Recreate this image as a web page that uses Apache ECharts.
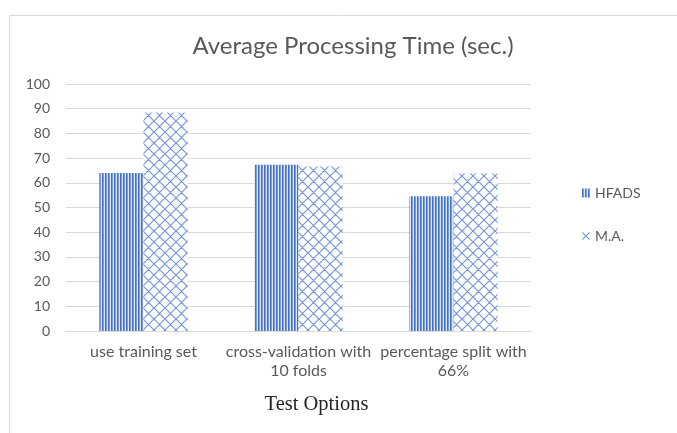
<!DOCTYPE html>
<html>
<head>
<meta charset="utf-8">
<script src="https://cdn.jsdelivr.net/npm/echarts@6/dist/echarts.min.js"></script>
<style>
  html, body { margin: 0; padding: 0; background: #ffffff; }
  #chart { width: 677px; height: 433px; }
</style>
</head>
<body>
<div id="chart"></div>
<script>
// Test options on the category axis
const categories = ['use training set', 'cross-validation with\n10 folds', 'percentage split with\n66%'];
// Average processing time in seconds
const hfadsValues = [64, 67.3, 54.6];
const maValues = [88.5, 66.6, 63.8];
const seriesNames = ['HFADS', 'M.A.'];
const yTicks = { min: 0, max: 100, interval: 10 };

const FONT = 'Lato, "Open Sans", sans-serif';
const TEXT_COLOR = '#595959';

// Vertical stripe fill
function stripePattern() {
  const c = document.createElement('canvas');
  c.width = 3; c.height = 4;
  const g = c.getContext('2d');
  g.fillStyle = '#dfe7f6'; g.fillRect(0, 0, 3, 4);
  g.fillStyle = '#4472c4'; g.fillRect(0, 0, 1, 4);
  g.fillStyle = '#7b9bd8'; g.fillRect(1, 0, 1, 4);
  return { image: c, repeat: 'repeat' };
}

// Diagonal cross-hatch fill
function hatchPattern() {
  const s = 11;
  const c = document.createElement('canvas');
  c.width = s; c.height = s;
  const g = c.getContext('2d');
  g.fillStyle = '#ffffff'; g.fillRect(0, 0, s, s);
  g.strokeStyle = '#7797d8';
  g.lineWidth = 1.2;
  g.beginPath();
  for (let k = -1; k <= 1; k++) {
    g.moveTo(k * s, 0); g.lineTo(k * s + s, s);
    g.moveTo(k * s + s, 0); g.lineTo(k * s, s);
  }
  g.stroke();
  return { image: c, repeat: 'repeat' };
}

const chart = echarts.init(document.getElementById('chart'), null, { renderer: 'canvas' });

chart.setOption({
  backgroundColor: '#ffffff',
  animation: false,
  title: {
    text: 'Average Processing Time (sec.)',
    left: 348,
    top: 29,
    textAlign: 'center',
    textStyle: { fontFamily: FONT, fontSize: 24, fontWeight: 'normal', color: TEXT_COLOR }
  },
  graphic: [{
    type: 'rect',
    shape: { x: 9.5, y: 15.5, width: 720, height: 500 },
    style: { fill: 'none', stroke: '#d9d9d9', lineWidth: 1 },
    silent: true
  }],
  legend: {
    orient: 'vertical',
    left: 577,
    top: 181,
    itemWidth: 8,
    itemHeight: 9,
    itemGap: 29,
    textStyle: { fontFamily: FONT, fontSize: 14, color: TEXT_COLOR },
    data: [
      { name: seriesNames[0], icon: 'rect' },
      {
        name: seriesNames[1],
        icon: 'path://M0,1L1,0L5,4L9,0L10,1L6,5L10,9L9,10L5,6L1,10L0,9L4,5Z',
        itemStyle: { color: '#7394d6' }
      }
    ]
  },
  grid: { left: 66, right: 146, top: 84, bottom: 102, containLabel: false },
  xAxis: {
    type: 'category',
    data: categories,
    name: 'Test Options',
    nameLocation: 'middle',
    nameGap: 63,
    nameTextStyle: {
      fontFamily: '"Liberation Serif", "Times New Roman", serif',
      fontSize: 20.5,
      color: '#262626',
      padding: [0, 0, 0, 36]
    },
    axisLine: { lineStyle: { color: '#d9d9d9', width: 1 } },
    axisTick: { show: false },
    axisLabel: {
      fontFamily: FONT, fontSize: 16, color: TEXT_COLOR,
      margin: 11, lineHeight: 19, interval: 0
    }
  },
  yAxis: {
    type: 'value',
    min: yTicks.min,
    max: yTicks.max,
    interval: yTicks.interval,
    axisLine: { show: false },
    axisTick: { show: false },
    axisLabel: { fontFamily: FONT, fontSize: 14, color: TEXT_COLOR, margin: 16 },
    splitLine: { lineStyle: { color: '#d9d9d9', width: 1 } }
  },
  series: [
    {
      name: seriesNames[0],
      type: 'bar',
      data: hfadsValues,
      barGap: '0%',
      barCategoryGap: '43%',
      itemStyle: { color: stripePattern() }
    },
    {
      name: seriesNames[1],
      type: 'bar',
      data: maValues,
      itemStyle: { color: hatchPattern() }
    }
  ]
});
</script>
</body>
</html>
